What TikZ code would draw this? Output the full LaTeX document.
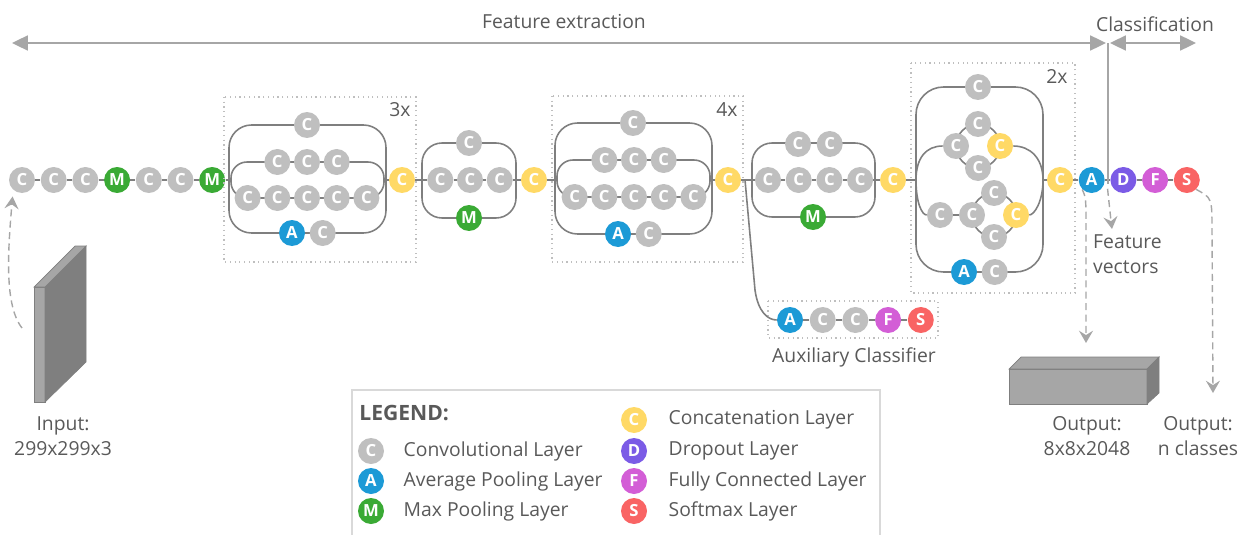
\documentclass[tikz,border=0pt]{standalone}
\usepackage{fontspec}
\setmainfont{Open Sans}
\setsansfont{Open Sans}
\usepackage{tikz}
\usetikzlibrary{arrows.meta, positioning, calc}

\definecolor{convgray}{HTML}{BFBFBF}
\definecolor{concatyellow}{HTML}{FFD966}
\definecolor{avgblue}{HTML}{1C9AD6}
\definecolor{maxgreen}{HTML}{3AAA35}
\definecolor{dropviolet}{HTML}{7B5BE6}
\definecolor{fcmagenta}{HTML}{D35ED6}
\definecolor{softred}{HTML}{F96464}
\definecolor{branchgray}{HTML}{7F7F7F}
\definecolor{arrowgray}{HTML}{A6A6A6}
\definecolor{labelgray}{HTML}{595959}
\definecolor{slabdark}{HTML}{7F7F7F}
\definecolor{slablight}{HTML}{A6A6A6}
\definecolor{framegray}{HTML}{D9D9D9}

\tikzset{
    cnnlayer/.style={
        circle, minimum size=0.52cm, inner sep=0pt,
        text=white, font=\fontsize{9.5}{10}\selectfont\bfseries
    },
    conv/.style={cnnlayer, fill=convgray},
    concat/.style={cnnlayer, fill=concatyellow},
    avgpool/.style={cnnlayer, fill=avgblue},
    maxpool/.style={cnnlayer, fill=maxgreen},
    dropout/.style={cnnlayer, fill=dropviolet},
    fullconn/.style={cnnlayer, fill=fcmagenta},
    softmax/.style={cnnlayer, fill=softred},
    link/.style={draw=branchgray, line width=0.9pt},
    branch/.style={draw=branchgray, line width=0.9pt},
    repeat box/.style={draw=convgray, dotted, line width=0.7pt},
    span/.style={
        {Triangle[length=9pt,width=8.5pt]}-{Triangle[length=9pt,width=8.5pt]},
        draw=arrowgray, line width=1.1pt
    },
    flow/.style={
        -{Stealth[length=7pt,width=8pt,inset=2.5pt]},
        draw=arrowgray, line width=0.8pt, dash pattern=on 4pt off 2.5pt
    },
    caption/.style={text=labelgray, font=\fontsize{11}{14}\selectfont, align=center},
    legend text/.style={text=labelgray, font=\fontsize{11}{14}\selectfont, inner sep=0pt},
}

\begin{document}
\begin{tikzpicture}[x=0.02cm, y=-0.02cm]
    \useasboundingbox (0,0) rectangle (1247,534);

    % stem
    \node[conv] (c1) at (22,180) {C};
    \node[conv, right=0.1cm of c1] (c2) {C};
    \node[conv, right=0.1cm of c2] (c3) {C};
    \node[maxpool, right=0.1cm of c3] (m1) {M};
    \node[conv, right=0.1cm of m1] (c4) {C};
    \node[conv, right=0.1cm of c4] (c5) {C};
    \node[maxpool, right=0.1cm of c5] (m2) {M};

    % block A, repeated 3x
    \draw[repeat box] (224,97) rectangle (416,262);
    \node[caption] (rep3) at (400,110) {3x};
    \draw[branch, rounded corners=0.45cm] (229,125) rectangle (386,233);
    \draw[branch, rounded corners=0.32cm] (231,162) rectangle (384,198);
    \coordinate (b1in) at (229,180);
    \coordinate (b1out) at (386,180);
    \node[conv] (b1t) at (307,125) {C};
    \node[conv] (b1m2) at (307,162) {C};
    \node[conv, left=0.06cm of b1m2] (b1m1) {C};
    \node[conv, right=0.06cm of b1m2] (b1m3) {C};
    \node[conv] (b1n3) at (307,198) {C};
    \node[conv, left=0.06cm of b1n3] (b1n2) {C};
    \node[conv, left=0.06cm of b1n2] (b1n1) {C};
    \node[conv, right=0.06cm of b1n3] (b1n4) {C};
    \node[conv, right=0.06cm of b1n4] (b1n5) {C};
    \node[avgpool] (b1a) at (292,233) {A};
    \node[conv, right=0.08cm of b1a] (b1c) {C};
    \node[concat] (k1) at (402,180) {C};

    % reduction block
    \draw[branch, rounded corners=0.4cm] (422,143) rectangle (516,218);
    \coordinate (b2in) at (422,180);
    \coordinate (b2out) at (516,180);
    \node[conv] (b2t) at (469,143) {C};
    \node[conv] (b2m2) at (470,180) {C};
    \node[conv, left=0.06cm of b2m2] (b2m1) {C};
    \node[conv, right=0.06cm of b2m2] (b2m3) {C};
    \node[maxpool] (b2p) at (469,218) {M};
    \node[concat] (k2) at (534,180) {C};

    % block B, repeated 4x
    \draw[repeat box] (552,96) rectangle (743,262);
    \node[caption] (rep4) at (727,110) {4x};
    \draw[branch, rounded corners=0.45cm] (555,123) rectangle (712,234);
    \draw[branch, rounded corners=0.32cm] (557,160) rectangle (710,197);
    \coordinate (b3in) at (555,180);
    \coordinate (b3out) at (712,180);
    \node[conv] (b3t) at (633,123) {C};
    \node[conv] (b3m2) at (634,160) {C};
    \node[conv, left=0.06cm of b3m2] (b3m1) {C};
    \node[conv, right=0.06cm of b3m2] (b3m3) {C};
    \node[conv] (b3n3) at (634,197) {C};
    \node[conv, left=0.06cm of b3n3] (b3n2) {C};
    \node[conv, left=0.06cm of b3n2] (b3n1) {C};
    \node[conv, right=0.06cm of b3n3] (b3n4) {C};
    \node[conv, right=0.06cm of b3n4] (b3n5) {C};
    \node[avgpool] (b3a) at (618,234) {A};
    \node[conv, right=0.08cm of b3a] (b3c) {C};
    \node[concat] (k3) at (728,180) {C};
    \coordinate (auxsplit) at (745,180);

    % second reduction block
    \draw[branch, rounded corners=0.4cm] (752,143) rectangle (875,217);
    \coordinate (b4in) at (752,180);
    \coordinate (b4out) at (875,180);
    \node[conv] (b4t1) at (798,144) {C};
    \node[conv, right=0.1cm of b4t1] (b4t2) {C};
    \node[conv] (b4m1) at (768,180) {C};
    \node[conv, right=0.08cm of b4m1] (b4m2) {C};
    \node[conv, right=0.08cm of b4m2] (b4m3) {C};
    \node[conv, right=0.08cm of b4m3] (b4m4) {C};
    \node[maxpool] (b4p) at (813,217) {M};
    \node[concat] (k4) at (893,180) {C};

    % block C, repeated 2x
    \draw[repeat box] (911,63) rectangle (1075,293);
    \node[caption] (rep2) at (1057,77) {2x};
    \draw[branch, rounded corners=0.55cm] (916,87) rectangle (1043,272);
    \coordinate (b5in) at (916,180);
    \coordinate (b5out) at (1043,180);
    \draw[branch] (978,146) circle[radius=0.44cm];
    \draw[branch] (994,215) circle[radius=0.44cm];
    \node[conv] (b5t) at (978,87) {C};
    \node[conv] (u1) at (956,146) {C};
    \node[conv] (ut) at (978,124) {C};
    \node[conv] (ub) at (978,168) {C};
    \node[concat] (uk) at (1000,146) {C};
    \node[conv] (l1) at (940,215) {C};
    \node[conv] (l2) at (972,215) {C};
    \node[conv] (lt) at (994,193) {C};
    \node[conv] (lb) at (994,237) {C};
    \node[concat] (lk) at (1016,215) {C};
    \node[avgpool] (b5a) at (964,272) {A};
    \node[conv, right=0.08cm of b5a] (b5c) {C};
    \draw[branch] (b5in) .. controls (916,158) and (926,146) .. (u1);
    \draw[branch] (uk) .. controls (1030,146) and (1043,158) .. (b5out);
    \draw[branch] (b5in) .. controls (916,203) and (922,215) .. (l1);
    \draw[branch] (l1) -- (l2);
    \draw[branch] (lk) .. controls (1034,215) and (1043,202) .. (b5out);
    \node[concat] (k5) at (1060,180) {C};

    % classifier head
    \node[avgpool, right=0.1cm of k5] (avg) {A};
    \node[dropout, right=0.1cm of avg] (drop) {D};
    \node[fullconn, right=0.1cm of drop] (fc) {F};
    \node[softmax, right=0.1cm of fc] (soft) {S};

    % auxiliary head
    \draw[repeat box] (768,301) rectangle (938,338);
    \node[avgpool] (xa) at (790,320) {A};
    \node[conv, right=0.12cm of xa] (xc1) {C};
    \node[conv, right=0.12cm of xc1] (xc2) {C};
    \node[fullconn, right=0.12cm of xc2] (xf) {F};
    \node[softmax, right=0.12cm of xf] (xs) {S};
    \node[caption] (auxlbl) at (854,357) {Auxiliary Classifier};

    % main line
    \draw[link] (c1) -- (c2) -- (c3) -- (m1) -- (c4) -- (c5) -- (m2) -- (b1in);
    \draw[link] (b1out) -- (k1) -- (b2in) -- (b2m1) -- (b2m2) -- (b2m3) -- (b2out) -- (k2) -- (b3in);
    \draw[link] (b3out) -- (k3) -- (b4in) -- (b4m1) -- (b4m2) -- (b4m3) -- (b4m4) -- (b4out) -- (k4) -- (b5in);
    \draw[link] (b5out) -- (k5) -- (avg) -- (drop) -- (fc) -- (soft);
    \draw[link] (auxsplit) -- (755,290) .. controls (758,312) and (768,320) .. (xa);
    \draw[link] (xa) -- (xc1) -- (xc2) -- (xf) -- (xs);

    % stage spans
    \coordinate (split) at ($(avg)!0.5!(drop)$);
    \coordinate (spantop) at (split |- 0,43);
    \coordinate (feleft) at (12,43);
    \coordinate (feright) at (1106,43);
    \coordinate (clleft) at (1110,43);
    \coordinate (clright) at (1196,43);
    \draw[span] (feleft) -- (feright);
    \draw[span] (clleft) -- (clright);
    \draw[draw=arrowgray, line width=1.1pt] (spantop) -- ([yshift=-2pt]split);
    \node[caption] (felbl) at (564,22) {Feature extraction};
    \node[caption] (cllbl) at (1155,24) {Classification};

    % input volume
    \draw[draw=slabdark, fill=slablight] (34,287) rectangle (45,402);
    \draw[draw=slabdark, fill=slabdark] (45,287) -- (86,246) -- (86,362) -- (45,402) -- cycle;
    \draw[draw=slabdark, fill=slablight] (34,287) -- (75,246) -- (86,246) -- (45,287) -- cycle;
    \coordinate (intop) at (22,328);
    \node[caption] (inlbl) at (63,436) {Input:\\299x299x3};
    \draw[flow] (intop) .. controls (4,305) and (8,250) .. ([yshift=-4pt]c1.south west);

    % output volume
    \draw[draw=slabdark, fill=slablight] (1009,369) rectangle (1147,404);
    \draw[draw=slabdark, fill=slablight] (1009,369) -- (1021,357) -- (1159,357) -- (1147,369) -- cycle;
    \draw[draw=slabdark, fill=slabdark] (1147,369) -- (1159,357) -- (1159,393) -- (1147,404) -- cycle;
    \coordinate (fmtop) at (1086,343);
    \coordinate (clstip) at (1213,393);
    \coordinate (fvtip) at (1112,229);
    \node[caption] (outlbl) at (1087,436) {Output:\\8x8x2048};
    \node[caption] (clslbl) at (1198,436) {Output:\\n classes};
    \node[caption, align=left, anchor=west] (fvlbl) at (1087,254) {Feature\\vectors};
    \draw[flow] (avg.south west) .. controls (1086,198) .. (1086,230) -- (fmtop);
    \draw[flow] ([yshift=-5pt]split) .. controls (1109,205) .. (fvtip);
    \draw[flow] (soft.south east) .. controls (1212,198) .. (1212,230) -- (clstip);

    % legend
    \draw[draw=framegray, line width=0.8pt] (352,390) rectangle (880,545);
    \node[legend text, anchor=west, font=\fontsize{12}{14}\selectfont\bfseries] (lgtitle) at (359,413) {LEGEND:};
    \node[conv] (lgconv) at (371,451) {C};
    \node[avgpool] (lgavg) at (371,481) {A};
    \node[maxpool] (lgmax) at (371,511) {M};
    \node[concat] (lgcat) at (634,420) {C};
    \node[dropout] (lgdrop) at (634,451) {D};
    \node[fullconn] (lgfc) at (634,481) {F};
    \node[softmax] (lgsoft) at (634,511) {S};
    \node[legend text, right=0.38cm of lgconv] (lgconvtxt) {Convolutional Layer};
    \node[legend text, right=0.38cm of lgavg] (lgavgtxt) {Average Pooling Layer};
    \node[legend text, right=0.38cm of lgmax] (lgmaxtxt) {Max Pooling Layer};
    \node[legend text, right=0.42cm of lgcat] (lgcattxt) {Concatenation Layer};
    \node[legend text, right=0.42cm of lgdrop] (lgdroptxt) {Dropout Layer};
    \node[legend text, right=0.42cm of lgfc] (lgfctxt) {Fully Connected Layer};
    \node[legend text, right=0.42cm of lgsoft] (lgsofttxt) {Softmax Layer};
\end{tikzpicture}
\end{document}
